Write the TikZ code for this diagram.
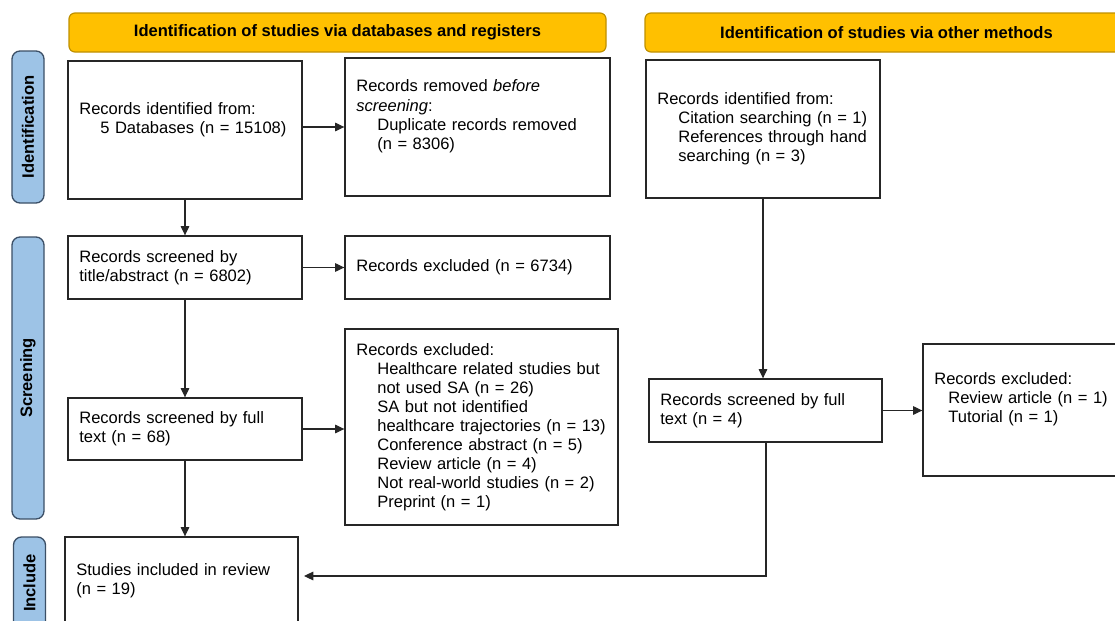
\documentclass[tikz,border=0pt]{standalone}
\usepackage{fontspec}
\setmainfont{Liberation Sans}
\usetikzlibrary{arrows.meta}
\definecolor{hdrgold}{HTML}{FFC000}
\definecolor{phaseblue}{HTML}{9DC3E6}
\definecolor{phaseline}{HTML}{3B4F66}

\begin{document}
\begin{tikzpicture}[x=0.75pt,y=-0.75pt,
                every node/.style={font=\fontsize{12.4pt}{14.3pt}\selectfont},
                box/.style={draw=black!85, line width=1pt, inner xsep=8.5pt, inner ysep=0pt, align=left},
                hdr/.style={draw=hdrgold!75!black, fill=hdrgold, rounded corners=4.5pt, line width=0.9pt,
                    minimum height=29.25pt, font=\fontsize{12.4pt}{14.3pt}\selectfont\bfseries},
                phase/.style={draw=phaseline, fill=phaseblue, rounded corners=6pt, line width=1pt, rotate=90,
                    minimum height=24pt, font=\fontsize{12.4pt}{14.3pt}\selectfont\bfseries},
                arr/.style={-{Triangle[length=7pt,width=6.5pt]}, line width=0.8pt, draw=black!85}]
            \useasboundingbox (0,0) rectangle (1115,621);
            \clip (0,0) rectangle (1115,621);

            \node[hdr, minimum width=402.75pt] (hdrdb) at (337.5,32.5) {Identification of studies via databases and registers};
            \node[hdr, minimum width=362.25pt] (hdrother) at (886.5,32.5) {Identification of studies via other methods};

            \node[phase, minimum width=114pt] (phid) at (28,127) {Identification};
            \node[phase, minimum width=211.5pt] (phscr) at (28,378) {Screening};
            \node[phase, minimum width=69pt] (phinc) at (29.5,583) {Include};

            \node[box, text width=158.5pt, minimum height=103.5pt] (ident) at (185,130)
                {Records identified from:\\\hspace*{15.75pt}5 Databases (n = 15108)\\\strut};
            \node[box, text width=181.75pt, minimum height=103.5pt] (removed) at (477.5,127)
                {Records removed \emph{before}\\\emph{screening}:\\\hspace*{15.75pt}Duplicate records removed\\\hspace*{15.75pt}(n = 8306)\\\strut};
            \node[box, text width=158.5pt, minimum height=47.25pt] (scrtitle) at (185,267.5)
                {Records screened by\\title/abstract (n = 6802)};
            \node[box, text width=181.75pt, minimum height=47.25pt] (excltitle) at (477.5,267.5)
                {Records excluded (n = 6734)};
            \node[box, text width=158.5pt, minimum height=46.5pt] (scrfull) at (185,429)
                {Records screened by full\\text (n = 68)};
            \node[box, text width=187.75pt, minimum height=147pt] (exclfull) at (481.5,427)
                {Records excluded:\\
                \hspace*{15.75pt}Healthcare related studies but\\
                \hspace*{15.75pt}not used SA (n = 26)\\
                \hspace*{15.75pt}SA but not identified\\
                \hspace*{15.75pt}healthcare trajectories (n = 13)\\
                \hspace*{15.75pt}Conference abstract (n = 5)\\
                \hspace*{15.75pt}Review article (n = 4)\\
                \hspace*{15.75pt}Not real-world studies (n = 2)\\
                \hspace*{15.75pt}Preprint (n = 1)};
            \node[box, text width=157.75pt, minimum height=65.25pt] (incl) at (181.5,580.5)
                {Studies included in review\\(n = 19)};

            \node[box, text width=158.5pt, minimum height=103.5pt] (other) at (763,129)
                {Records identified from:\\
                \hspace*{15.75pt}Citation searching (n = 1)\\
                \hspace*{15.75pt}References through hand\\
                \hspace*{15.75pt}searching (n = 3)};
            \node[box, text width=157.75pt, minimum height=47.25pt] (scrother) at (765.5,410.5)
                {Records screened by full\\text (n = 4)};
            \node[box, text width=138.25pt, minimum height=99pt] (exclother) at (1026.5,410)
                {Records excluded:\\
                \hspace*{10.5pt}Review article (n = 1)\\
                \hspace*{10.5pt}Tutorial (n = 1)\\\strut};

            \draw[arr] (ident.east |- removed.west) -- (removed.west);
            \draw[arr] (ident) -- (scrtitle);
            \draw[arr] (scrtitle) -- (excltitle);
            \draw[arr] (scrtitle) -- (scrfull);
            \draw[arr] (scrfull) -- (scrfull -| exclfull.west);
            \draw[arr] (scrfull.south) -- (scrfull.south |- incl.north);
            \draw[arr] (other) -- (other |- scrother.north);
            \draw[arr] (scrother) -- (scrother -| exclother.west);
            \coordinate (turn) at (766,576);
            \draw[arr, shorten >=4pt] (scrother.south -| turn) -- (turn) -- (turn -| incl.east);
        \end{tikzpicture}
\end{document}
